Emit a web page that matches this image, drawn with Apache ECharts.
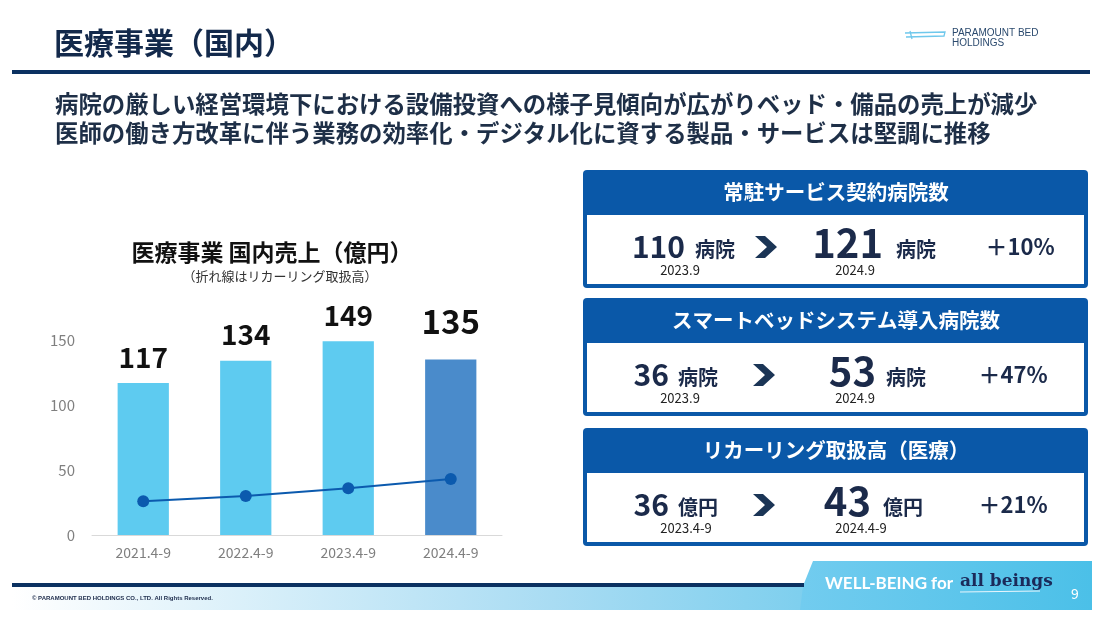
<!DOCTYPE html>
<html><head><meta charset="utf-8">
<script src="https://cdn.jsdelivr.net/npm/echarts@6/dist/echarts.min.js"></script>
<style>html,body{margin:0;padding:0;background:#fff}#c{width:1102px;height:632px}</style>
</head><body><div id="c"></div>
<script>
// ---- data ----
const categories = ['2021.4-9', '2022.4-9', '2023.4-9', '2024.4-9'];
const salesValues = [117, 134, 149, 135];       // 国内売上（億円）
const recurringValues = [26, 30, 36, 43];        // リカーリング取扱高（億円）
const yTicks = [0, 50, 100, 150];

const boxTitles = ['常駐サービス契約病院数', 'スマートベッドシステム導入病院数', 'リカーリング取扱高（医療）'];
const boxFromValues = [110, 36, 36];
const boxToValues = [121, 53, 43];
const boxUnits = ['病院', '病院', '億円'];
const boxFromDates = ['2023.9', '2023.9', '2023.4-9'];
const boxToDates = ['2024.9', '2024.9', '2024.4-9'];
const boxGrowth = ['＋10%', '＋47%', '＋21%'];

const headline = '医療事業（国内）';
const summaryLines = [
  '病院の厳しい経営環境下における設備投資への様子見傾向が広がりベッド・備品の売上が減少',
  '医師の働き方改革に伴う業務の効率化・デジタル化に資する製品・サービスは堅調に推移'
];
const chartTitle = '医療事業 国内売上（億円）';
const chartSubtitle = '（折れ線はリカーリング取扱高）';

// ---- rendering ----
const FF = '"Noto Sans CJK JP", "Noto Sans", sans-serif';
const NAVY = '#1b2a4a';
const BLUE = '#0a58a8';
const chart = echarts.init(document.getElementById('c'), null, {renderer: 'canvas'});

function txt(x, y, text, size, opts) {
  opts = opts || {};
  return {
    type: 'text', x: x, y: y, z: 10,
    style: {
      text: text,
      font: (opts.weight || 'bold') + ' ' + size + 'px ' + (opts.family || FF),
      fill: opts.fill || NAVY,
      align: opts.align || 'left',
      verticalAlign: 'middle'
    }
  };
}

const g = [];
// header
g.push(txt(54, 43, headline, 30, {fill: '#13294b'}));
g.push({type: 'rect', shape: {x: 12, y: 70, width: 1078, height: 4}, style: {fill: '#0b3161'}});
// logo
g.push({type: 'polyline', shape: {points: [[905, 33], [945, 32], [944, 36], [906, 37]]}, style: {stroke: '#6fc8ec', lineWidth: 1.3, fill: null}});
g.push({type: 'polyline', shape: {points: [[910, 31], [912, 39]]}, style: {stroke: '#6fc8ec', lineWidth: 1.3}});
g.push(txt(952, 33, 'PARAMOUNT BED', 10, {weight: 'normal', fill: '#2b4a6e', family: '"Liberation Sans", sans-serif'}));
g.push(txt(952, 43, 'HOLDINGS', 10, {weight: 'normal', fill: '#2b4a6e', family: '"Liberation Sans", sans-serif'}));
// summary
summaryLines.forEach((s, i) => g.push(txt(55, 104 + i * 29, s, 23.4, {fill: '#1e2f47'})));
// chart titles
g.push(txt(272, 252, chartTitle, 23, {align: 'center', fill: '#111'}));
g.push(txt(280, 276, chartSubtitle, 13, {align: 'center', weight: 'normal', fill: '#333'}));

// boxes
const boxTops = [170, 298, 428];
boxTops.forEach((t, i) => {
  g.push({type: 'rect', shape: {x: 583, y: t, width: 505, height: 118, r: 4}, style: {fill: BLUE}});
  g.push({type: 'rect', shape: {x: 587, y: t + 45, width: 497, height: 69}, style: {fill: '#fff'}});
  g.push(txt(836, t + 22, boxTitles[i], 20.5, {align: 'center', fill: '#fff'}));
  const cy = t + 77;
  g.push(txt(690 - (i === 0 ? 5 : 21), cy, String(boxFromValues[i]), 30, {align: 'right'}));
  g.push(txt(i === 0 ? 695 : 678, cy + 2, boxUnits[i], 20));
  g.push(txt(i === 2 ? 686 : 680, t + 100, boxFromDates[i], 13, {align: 'center', weight: 'normal', fill: '#222'}));
  const ax = i === 0 ? 755 : 753;
  g.push({type: 'polygon', shape: {points: [[ax, cy - 11], [ax + 10, cy - 11], [ax + 22, cy], [ax + 10, cy + 11], [ax, cy + 11], [ax + 12, cy]]}, style: {fill: '#1b3556'}});
  const toRight = [883, 876, 871][i];
  g.push(txt(toRight, cy - 4, String(boxToValues[i]), 40, {align: 'right'}));
  g.push(txt([896, 886, 883][i], cy + 2, boxUnits[i], 20));
  g.push(txt(i === 2 ? 861 : 855, t + 100, boxToDates[i], 13, {align: 'center', weight: 'normal', fill: '#222'}));
  g.push(txt(i === 0 ? 1020 : 1013, cy, boxGrowth[i], 22, {align: 'center'}));
});

// footer
g.push({type: 'rect', shape: {x: 12, y: 586, width: 1080, height: 24},
  style: {fill: new echarts.graphic.LinearGradient(0, 0, 1, 0, [{offset: 0, color: '#ffffff'}, {offset: 0.5, color: '#a9dcf3'}, {offset: 1, color: '#4dc0e8'}])}});
g.push({type: 'polygon', shape: {points: [[813, 561], [1092, 561], [1092, 610], [800, 610], [803, 586]]},
  style: {fill: new echarts.graphic.LinearGradient(0, 0, 1, 0, [{offset: 0, color: '#72ccef'}, {offset: 1, color: '#4bc0e8'}])}});
g.push({type: 'rect', shape: {x: 12, y: 583, width: 792, height: 4}, style: {fill: '#0b3161'}});
g.push(txt(825, 584, 'WELL-BEING for', 17, {fill: '#fff', family: '"Lato", "Open Sans", sans-serif'}));
g.push(txt(960, 582, 'all beings', 17, {fill: '#1b2a5a', family: '"DejaVu Serif", "Liberation Serif", serif'}));
g.push({type: 'line', shape: {x1: 960, y1: 592, x2: 1040, y2: 591}, style: {stroke: '#e8f6fd', lineWidth: 1}});
g.push(txt(1075, 594, '9', 14, {weight: 'normal', fill: '#fff', align: 'center'}));
g.push(txt(32, 598, '© PARAMOUNT BED HOLDINGS CO., LTD. All Rights Reserved.', 6, {fill: '#1b2a4a', family: '"Liberation Sans", sans-serif'}));

const barData = salesValues.map((v, i) => {
  const last = i === salesValues.length - 1;
  return {
    value: v,
    itemStyle: {color: last ? '#4a8bcb' : '#5ecbf0'},
    label: {fontSize: last ? 33 : 28, distance: last ? 22 : 12}
  };
});

chart.setOption({
  animation: false,
  backgroundColor: '#fff',
  grid: {left: 92, right: 600, top: 340, bottom: 97, containLabel: false},
  xAxis: {
    type: 'category', data: categories,
    axisLine: {lineStyle: {color: '#d9d9d9', width: 1}},
    axisTick: {show: false},
    axisLabel: {color: '#7f7f7f', fontSize: 14, margin: 11, fontFamily: FF}
  },
  yAxis: {
    type: 'value', min: yTicks[0], max: yTicks[yTicks.length - 1], interval: yTicks[1] - yTicks[0],
    axisLine: {show: false}, axisTick: {show: false}, splitLine: {show: false},
    axisLabel: {color: '#7f7f7f', fontSize: 15, margin: 17, fontFamily: FF}
  },
  series: [
    {
      type: 'bar', data: barData, barWidth: '50%',
      label: {show: true, position: 'top', color: '#111', fontWeight: 'bold', fontFamily: FF}
    },
    {
      type: 'line', data: recurringValues, symbol: 'circle', symbolSize: 12,
      lineStyle: {color: '#0b5aae', width: 2}, itemStyle: {color: '#0b5aae'}, z: 5
    }
  ],
  graphic: g
});
</script></body></html>
